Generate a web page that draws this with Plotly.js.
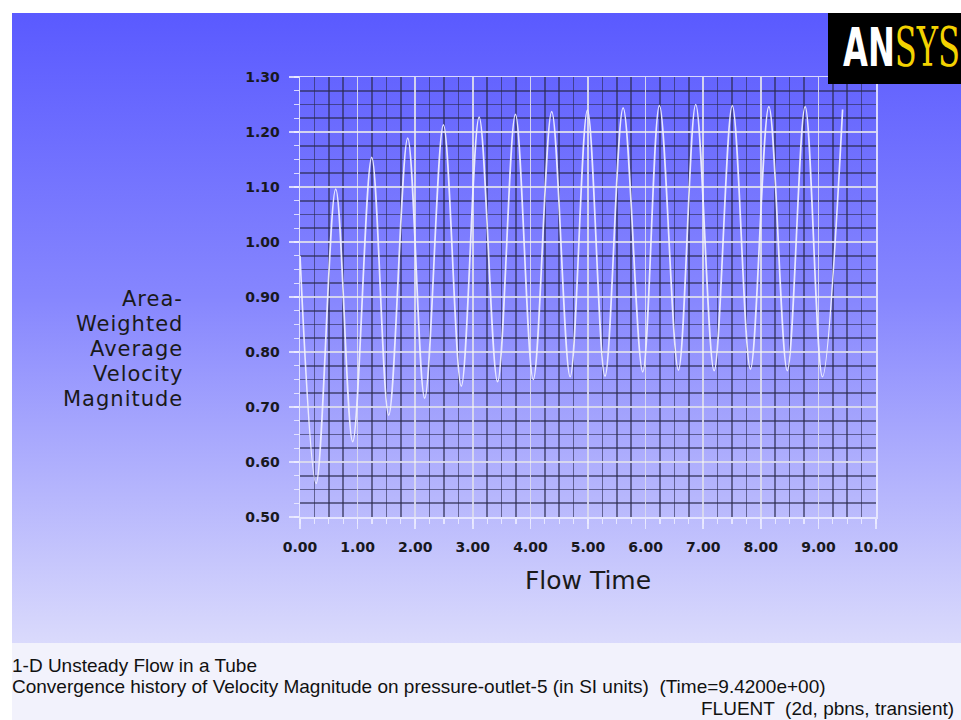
<!DOCTYPE html>
<html>
<head>
<meta charset="utf-8">
<script src="https://cdn.plot.ly/plotly-3.0.1.min.js"></script>
<style>
  html, body { margin:0; padding:0; background:#ffffff; }
  #wrap { position:relative; width:961px; height:720px; overflow:hidden; background:#ffffff; }
  #grad { position:absolute; left:12px; top:13px; width:949px; height:630px;
          background: linear-gradient(to bottom, #5a5aff 0%, #8686fe 45%, #dadafc 100%); }
  #foot { position:absolute; left:12px; top:643px; width:949px; height:77px; background:#f2f2fc; }
  #chart { position:absolute; left:0; top:0; width:961px; height:720px; }
</style>
</head>
<body>
<div id="wrap">
  <div id="grad"></div>
  <div id="foot"></div>
  <div id="chart"></div>
</div>
<script>
// Flow time (s) at the start, each trough/peak and the end of the record
const flowTime = [0.00, 0.28, 0.62, 0.915, 1.245, 1.54, 1.87, 2.165, 2.49, 2.80,
                  3.11, 3.43, 3.74, 4.05, 4.37, 4.69, 4.99, 5.295, 5.61, 5.95,
                  6.24, 6.57, 6.87, 7.19, 7.505, 7.82, 8.14, 8.46, 8.77, 9.07, 9.42];
// Area-weighted average velocity magnitude
const velocity = [0.975, 0.561, 1.096, 0.637, 1.154, 0.685, 1.189, 0.716, 1.213, 0.738,
                  1.227, 0.746, 1.232, 0.750, 1.237, 0.755, 1.240, 0.756, 1.244, 0.764,
                  1.248, 0.767, 1.250, 0.766, 1.248, 0.769, 1.246, 0.766, 1.246, 0.755, 1.241];

const xTickVals = [0,1,2,3,4,5,6,7,8,9,10];
const xTickText = ["0.00","1.00","2.00","3.00","4.00","5.00","6.00","7.00","8.00","9.00","10.00"];
const yTickVals = [0.5,0.6,0.7,0.8,0.9,1.0,1.1,1.2,1.3];
const yTickText = ["0.50","0.60","0.70","0.80","0.90","1.00","1.10","1.20","1.30"];

const yTitleLines = ["Area-", "Weighted", "Average", "Velocity", "Magnitude"];
const xTitle = "Flow Time";
const footerLines = ["1-D Unsteady Flow in a Tube",
  "Convergence history of Velocity Magnitude on pressure-outlet-5 (in SI units)  (Time=9.4200e+00)"];
const footerRight = "FLUENT  (2d, pbns, transient)";
const logoParts = ["AN", "SYS"];

// pixel helpers for placing decorations (plot area: x 300..876, y 77..517)
const L = 300, R = 876, T = 77, B = 517;
const px = p => (p - L) / (R - L);
const py = p => (B - p) / (B - T);

const gridMajor = 'rgba(236,236,255,0.85)';
const gridMinor = 'rgba(40,40,75,0.6)';
const tickFont = {family: 'DejaVu Sans', size: 14, color: '#18181e', weight: 'bold'};

const trace = {
  x: flowTime, y: velocity, type: 'scatter', mode: 'lines',
  line: {color: 'rgba(238,238,255,0.95)', width: 1.7, shape: 'spline', smoothing: 1},
  hoverinfo: 'skip'
};

const annotations = [];
yTitleLines.forEach((t, i) => {
  annotations.push({text: "<span style='letter-spacing:1px'>" + t + "</span>",
    xref: 'paper', yref: 'paper', x: px(185), y: py(299 + 25 * i),
    xanchor: 'right', yanchor: 'middle', showarrow: false,
    font: {family: 'DejaVu Sans', size: 21, color: '#1a1a1a'}});
});
const footFont = {family: 'Liberation Sans', size: 19, color: '#111'};
annotations.push({text: footerLines[0], xref: 'paper', yref: 'paper', x: px(10), y: py(665),
  xanchor: 'left', yanchor: 'middle', showarrow: false, font: footFont});
annotations.push({text: footerLines[1], xref: 'paper', yref: 'paper', x: px(10), y: py(686),
  xanchor: 'left', yanchor: 'middle', showarrow: false, font: footFont});
annotations.push({text: footerRight, xref: 'paper', yref: 'paper', x: px(956), y: py(708),
  xanchor: 'right', yanchor: 'middle', showarrow: false, font: footFont});
annotations.push({
  text: "<span style='color:#ffffff;font-family:DejaVu Sans Condensed;font-weight:bold'>" + logoParts[0] +
        "</span><span style='color:#f3d200;font-family:DejaVu Serif Condensed'>" + logoParts[1] + "</span>",
  xref: 'paper', yref: 'paper', x: px(841), y: py(47),
  xanchor: 'left', yanchor: 'middle', showarrow: false,
  font: {family: 'DejaVu Sans Condensed', size: 54, color: '#ffffff'}});

const layout = {
  width: 961, height: 720,
  margin: {l: L, r: 961 - R, t: T, b: 720 - B, pad: 0},
  paper_bgcolor: 'rgba(0,0,0,0)', plot_bgcolor: 'rgba(0,0,0,0)',
  showlegend: false,
  xaxis: {
    range: [0, 10], tickvals: xTickVals, ticktext: xTickText,
    ticks: 'outside', ticklen: 10, tickwidth: 1.5, tickcolor: gridMajor,
    showgrid: true, gridcolor: gridMajor, gridwidth: 1.5, zeroline: false,
    showline: true, linecolor: gridMajor, linewidth: 1.5, mirror: true,
    tickfont: tickFont, ticklabelstandoff: 7,
    minor: {dtick: 0.25, showgrid: true, gridcolor: gridMinor, gridwidth: 1.6,
            ticks: 'outside', ticklen: 5, tickcolor: gridMajor, tickwidth: 1.2},
    title: {text: xTitle, font: {family: 'DejaVu Sans', size: 25, color: '#1a1a1a'}, standoff: 17},
    fixedrange: true
  },
  yaxis: {
    range: [0.5, 1.3], tickvals: yTickVals, ticktext: yTickText,
    ticks: 'outside', ticklen: 10, tickwidth: 1.5, tickcolor: gridMajor,
    showgrid: true, gridcolor: gridMajor, gridwidth: 1.5, zeroline: false,
    showline: true, linecolor: gridMajor, linewidth: 1.5, mirror: true,
    tickfont: tickFont, ticklabelstandoff: 6,
    minor: {dtick: 0.025, showgrid: true, gridcolor: gridMinor, gridwidth: 1.6,
            ticks: 'outside', ticklen: 5, tickcolor: gridMajor, tickwidth: 1.2},
    fixedrange: true
  },
  shapes: [
    {type: 'rect', xref: 'paper', yref: 'paper', x0: px(828), x1: px(961), y0: py(84), y1: py(13),
     fillcolor: '#000000', line: {width: 0}, layer: 'above'}
  ],
  annotations: annotations
};

Plotly.newPlot('chart', [trace], layout, {displayModeBar: false, staticPlot: true}).then(gd => {
  // squeeze the logo text horizontally so it fits the black box like the original condensed logotype
  gd.querySelectorAll('.annotation-text').forEach(t => {
    if (t.textContent === logoParts.join('')) {
      const bb = t.getBBox();
      const target = 958 - 841;
      const s = Math.min(1, target / bb.width);
      t.setAttribute('transform',
        'translate(' + bb.x + ',0) scale(' + s + ',1) translate(' + (-bb.x) + ',0)');
    }
  });
});
</script>
</body>
</html>
